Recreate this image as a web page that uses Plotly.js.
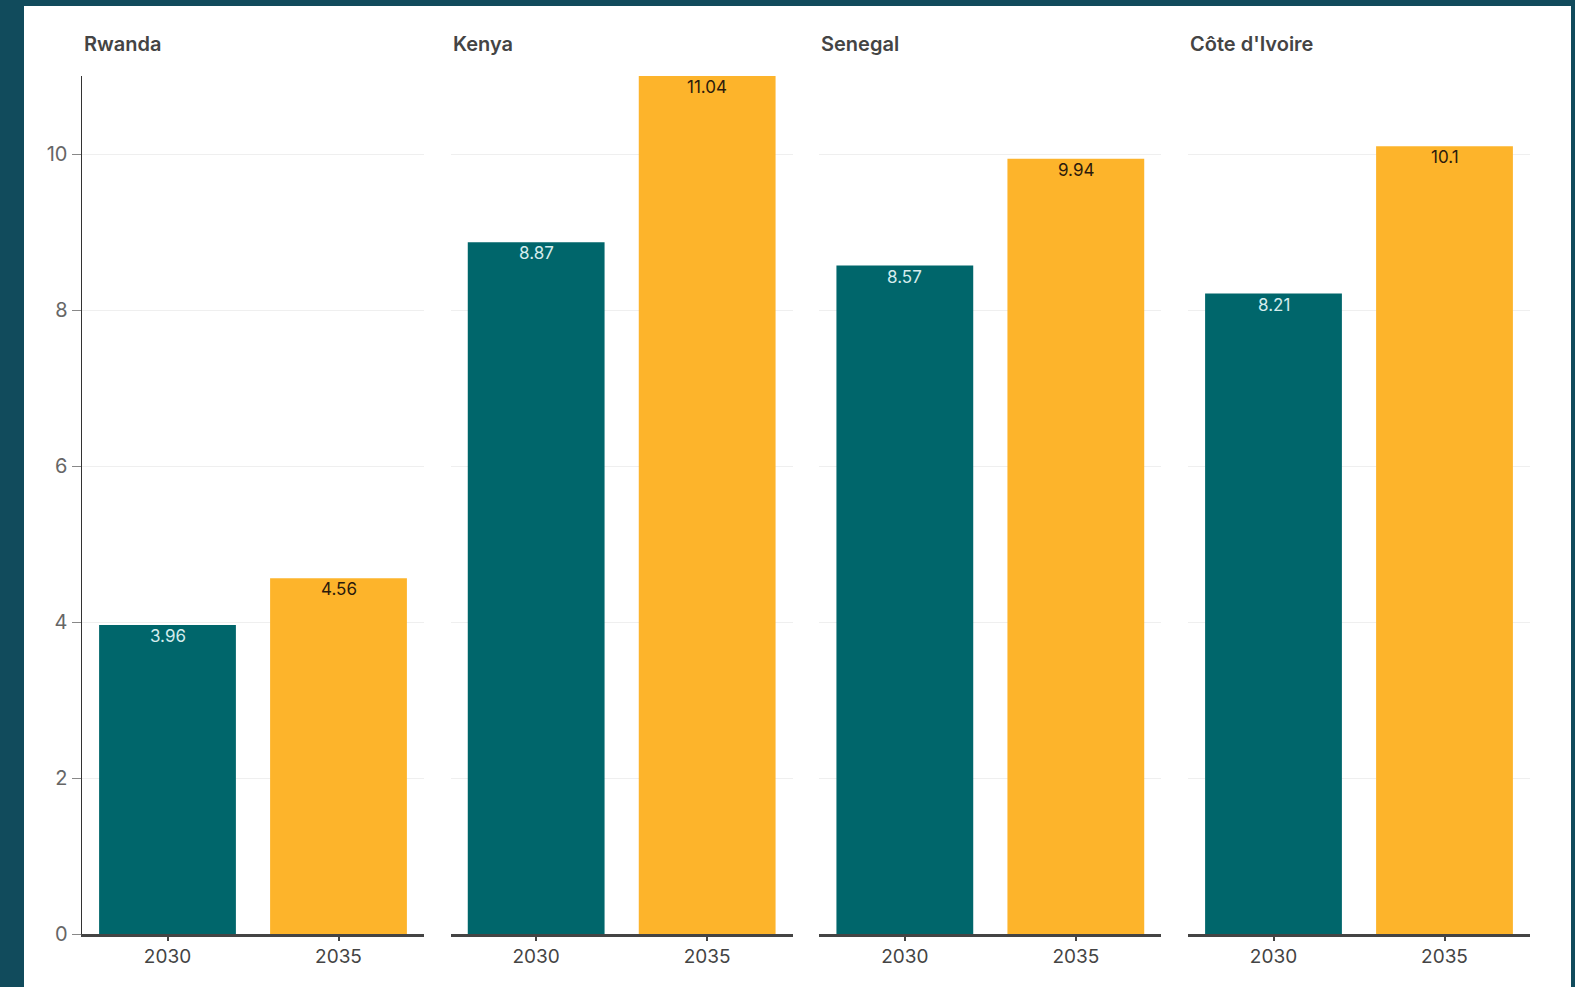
<!DOCTYPE html>
<html>
<head>
<meta charset="utf-8">
<script src="https://cdn.plot.ly/plotly-3.0.1.min.js"></script>
<style>
html,body{margin:0;padding:0;background:#114b5c;width:1575px;height:987px;overflow:hidden;}
#chart{position:absolute;left:24px;top:6px;width:1547px;height:981px;background:#fff;}
</style>
</head>
<body>
<div id="chart"></div>
<script>
const countries = ["Rwanda", "Kenya", "Senegal", "Côte d'Ivoire"];
const years = ["2030", "2035"];
const values2030 = [3.96, 8.87, 8.57, 8.21];
const values2035 = [4.56, 11.04, 9.94, 10.1];
const yTicks = [0, 2, 4, 6, 8, 10];
const yMax = 11;

const colors = ["#00666b", "#fdb42b"];
const textColors = ["#d4eced", "#2b1a0c"];
const FONT = "Inter, 'Open Sans', sans-serif";

const W = 1547, H = 981, L = 58, R = 41, T = 70, B = 53;
const plotW = W - L - R;
const panelW = 342;
const gap = (plotW - 4 * panelW) / 3;

const traces = [];
const layout = {
  width: W, height: H,
  margin: {l: L, r: R, t: T, b: B, pad: 0},
  paper_bgcolor: "#ffffff",
  plot_bgcolor: "#ffffff",
  showlegend: false,
  bargap: 0.2,
  font: {family: FONT, color: "#555"},
  annotations: []
};

countries.forEach((c, i) => {
  const ax = i === 0 ? "" : String(i + 1);
  const vals = [values2030[i], values2035[i]];
  traces.push({
    type: "bar",
    x: years,
    y: vals,
    xaxis: "x" + ax,
    yaxis: "y" + ax,
    marker: {color: colors},
    hoverinfo: "x+y"
  });
  const d0 = i * (panelW + gap) / plotW;
  const d1 = (i * (panelW + gap) + panelW) / plotW;
  layout["xaxis" + ax] = {
    domain: [d0, d1],
    type: "category",
    range: [-0.5, 1.5],
    anchor: "y" + ax,
    showline: true, linecolor: "#444", linewidth: 2.5,
    ticks: "outside", ticklen: 4, tickcolor: "#444", tickwidth: 2,
    tickfont: {family: FONT, size: 19, color: "#444"},
    showgrid: false, zeroline: false, fixedrange: true
  };
  layout["yaxis" + ax] = {
    range: [0, yMax],
    anchor: "x" + ax,
    tickvals: yTicks,
    ticktext: yTicks.map(String),
    showticklabels: i === 0,
    showline: i === 0, linecolor: "#333", linewidth: 1.5,
    ticks: i === 0 ? "outside" : "", ticklen: 9, tickcolor: "#888", tickwidth: 1,
    tickfont: {family: FONT, size: 20, color: "#666"},
    showgrid: true, gridcolor: "#efefef", gridwidth: 1,
    zeroline: false, fixedrange: true
  };
  // value labels just inside the top of each bar (x = category index)
  vals.forEach((v, j) => {
    layout.annotations.push({
      text: String(v),
      xref: "x" + ax, yref: "y" + ax,
      x: j, y: Math.min(v, yMax),
      xanchor: "center", yanchor: "top",
      yshift: 1,
      showarrow: false,
      font: {family: FONT, size: 17, color: textColors[j]}
    });
  });
  layout.annotations.push({
    text: c,
    xref: "paper", yref: "paper",
    x: d0, y: (H - B - 37.5) / (H - T - B),
    xanchor: "left", yanchor: "middle",
    showarrow: false,
    font: {family: FONT, size: 20, color: "#444", weight: 600}
  });
});

Plotly.newPlot("chart", traces, layout, {displayModeBar: false, staticPlot: true});
</script>
</body>
</html>
